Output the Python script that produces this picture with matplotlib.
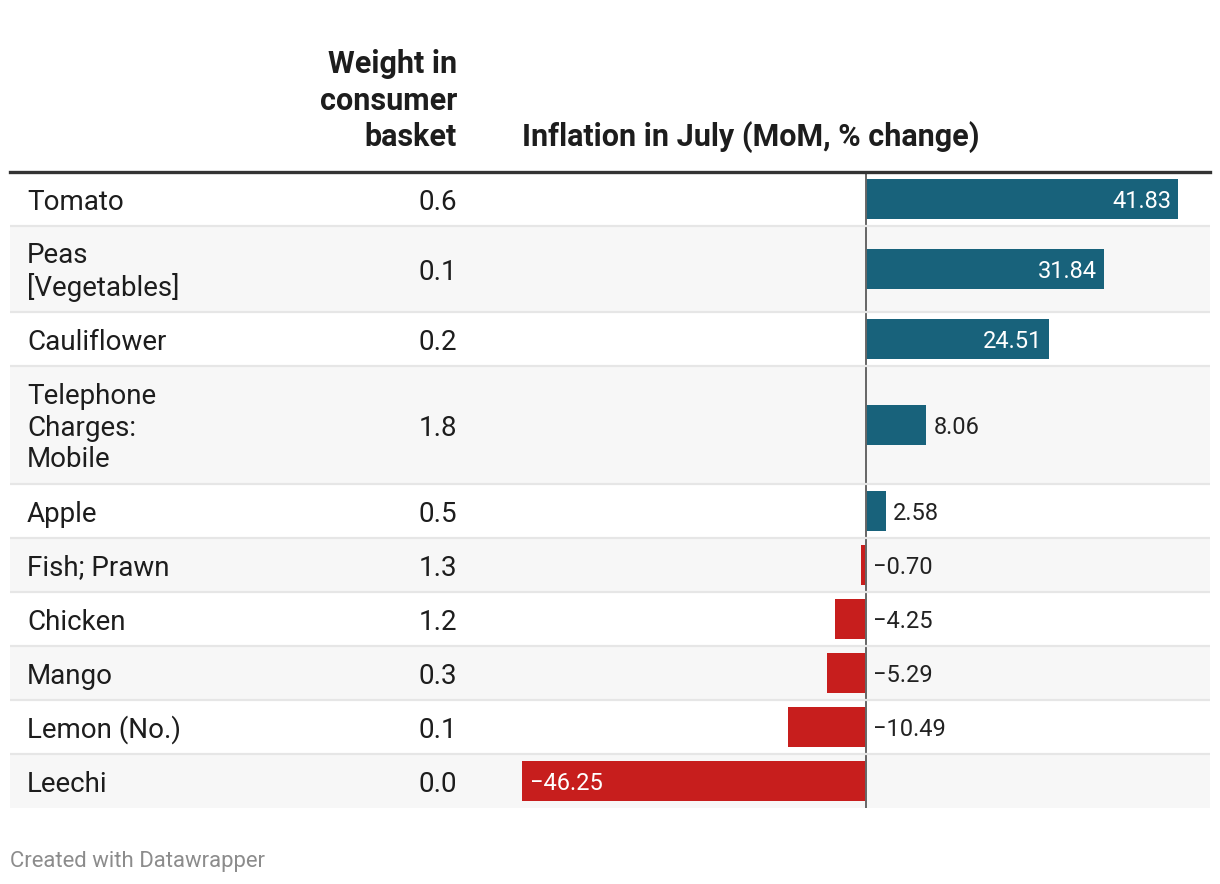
import matplotlib.pyplot as plt
import matplotlib.transforms as mtransforms
import numpy as np

plt.rcParams['font.family'] = ['Roboto', 'DejaVu Sans']

# data
items = ["Tomato", "Peas\n[Vegetables]", "Cauliflower", "Telephone\nCharges:\nMobile",
         "Apple", "Fish; Prawn", "Chicken", "Mango", "Lemon (No.)", "Leechi"]
weights = ["0.6", "0.1", "0.2", "1.8", "0.5", "1.3", "1.2", "0.3", "0.1", "0.0"]
inflation = [41.83, 31.84, 24.51, 8.06, 2.58, -0.70, -4.25, -5.29, -10.49, -46.25]

pos_col = "#18627b"
neg_col = "#c71e1d"

fig = plt.figure(figsize=(12.2, 8.84), dpi=100)
W, H = 1220, 884

# row heights depend on number of text lines
n_lines = np.array([s.count("\n") + 1 for s in items])
heights = 22 + 32 * n_lines
tops = np.concatenate([[0], np.cumsum(heights)[:-1]])
centers = tops + heights / 2
total = heights.sum()

top_px, left_px, right_px = 172, 10, 1210
ax = fig.add_axes([left_px / W, (H - top_px - total) / H, (right_px - left_px) / W, total / H])

# bar area from 522 to 1178 px
vmin, vmax = min(inflation), max(inflation)
scale = (1178 - 522) / (vmax - vmin)
ax.set_xlim(vmin - (522 - left_px) / scale, vmax + (right_px - 1178) / scale)
ax.set_ylim(total, 0)
ax.axis("off")

# row backgrounds
for i in range(len(items)):
    if i % 2 == 1:
        ax.axhspan(tops[i], tops[i] + heights[i], color="#f7f7f7", lw=0, zorder=0)

# zero line
ax.vlines(0, 0, total, color="#666666", lw=1.4, zorder=3)

# separators
for i in range(1, len(items)):
    ax.axhline(tops[i], color="#e6e6e6", lw=1.6, zorder=4)
ax.axhline(0, color="#333333", lw=2.4, zorder=5, clip_on=False)

# bars
colors = [pos_col if v >= 0 else neg_col for v in inflation]
ax.barh(centers, inflation, height=40, color=colors, zorder=2)

# value labels
for c, v in zip(centers, inflation):
    txt = f"{v:.2f}".replace("-", "\u2212")
    if abs(v) > 20:
        if v > 0:
            ax.annotate(txt, (v, c + 2), xytext=(-5, 0), textcoords="offset points",
                        ha="right", va="center", color="white", fontsize=17, zorder=6)
        else:
            ax.annotate(txt, (v, c + 2), xytext=(6, 0), textcoords="offset points",
                        ha="left", va="center", color="white", fontsize=17, zorder=6)
    else:
        x0 = v if v > 0 else 0
        ax.annotate(txt, (x0, c + 2), xytext=(5, 0), textcoords="offset points",
                    ha="left", va="center", color="#222222", fontsize=17, zorder=6)

# table text columns
trans = mtransforms.blended_transform_factory(ax.transAxes, ax.transData)
for c, name, w in zip(centers, items, weights):
    ax.text((27 - left_px) / (right_px - left_px), c + 3, name, transform=trans,
            ha="left", va="center", fontsize=20, color="#1d1d1d", linespacing=1.2)
    ax.text((457 - left_px) / (right_px - left_px), c + 3, w, transform=trans,
            ha="right", va="center", fontsize=20, color="#1d1d1d")

# headers
fig.text(457 / W, 1 - 146 / H, "Weight in\nconsumer\nbasket", ha="right", va="baseline",
         fontsize=22, fontweight="bold", color="#1d1d1d", linespacing=1.27)
fig.text(522 / W, 1 - 146 / H, "Inflation in July (MoM, % change)", ha="left", va="baseline",
         fontsize=22, fontweight="bold", color="#1d1d1d")

fig.text(10 / W, 1 - 867 / H, "Created with Datawrapper", ha="left", va="baseline",
         fontsize=15.9, color="#8c8c8c")

fig.savefig("out.png", dpi=100, facecolor="white")
